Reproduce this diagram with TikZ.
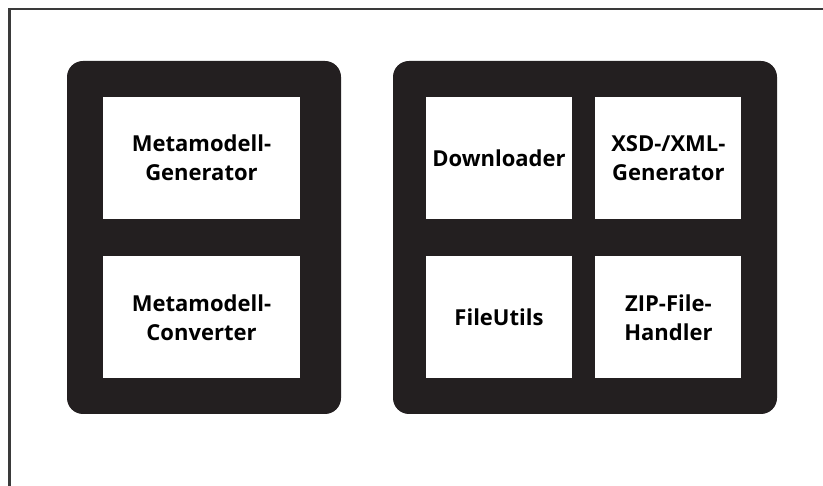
\documentclass[tikz,border=0pt]{standalone}
\usepackage{fontspec}
\setsansfont{Open Sans}
\usepackage{tikz}
\usetikzlibrary{positioning}
\definecolor{blockfill}{HTML}{231F20}
\definecolor{framegray}{HTML}{3A3A3A}

\begin{document}
\begin{tikzpicture}[x=1pt, y=-1pt,
    block/.style={fill=blockfill, rounded corners=16pt, minimum height=353pt},
    module/.style={fill=white, inner sep=0pt, minimum height=122pt, align=center,
      font=\sffamily\bfseries\fontsize{22}{29}\selectfont}]
  \useasboundingbox (0,0) rectangle (823,486);
  % frame, only top and left
  \draw [framegray, line width=2.5pt] (9.5,486) -- (9.5,9) -- (823,9);
  % the two blocks
  \node [block, minimum width=274pt] (core) at (204,237.5) {};
  \node [block, minimum width=384pt] (utils) at (585,237.5) {};
  % left block
  \node [module, minimum width=197pt] (gen) at (201.5,158) {Metamodell-\\Generator};
  \node [module, minimum width=197pt, below=37pt of gen] (conv) {Metamodell-\\Converter};
  % right block
  \node [module, minimum width=146pt] (dl) at (499,158) {Downloader};
  \node [module, minimum width=146pt, right=23pt of dl] (xsd) {XSD-/XML-\\Generator};
  \node [module, minimum width=146pt, below=37pt of dl] (fu) {FileUtils};
  \node [module, minimum width=146pt, below=37pt of xsd] (zip) {ZIP-File-\\Handler};
\end{tikzpicture}
\end{document}
